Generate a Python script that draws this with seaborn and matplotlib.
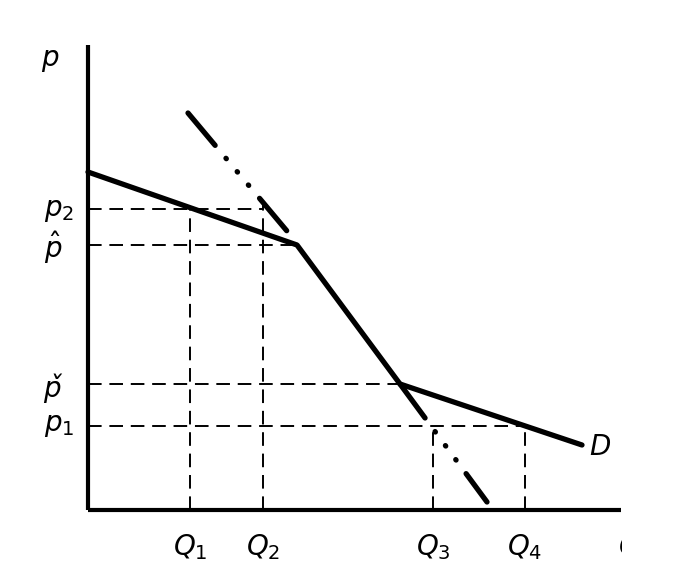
import matplotlib
matplotlib.use("Agg")
import matplotlib.pyplot as plt
import seaborn as sns
import pandas as pd
from matplotlib.transforms import Bbox

sns.set_theme(style="white")
plt.rcParams['font.family'] = ['DejaVu Sans']
plt.rcParams['mathtext.fontset'] = 'dejavusans'
plt.rcParams['text.color'] = 'black'

# Kinked demand curve D (quantity, price)
demand_q = [0, 209, 312, 494]
demand_p = [338, 265, 126, 65]

# Dash-dot extensions
upper_q = [100, 209]
upper_p = [397, 267]
lower_q = [312, 399]
lower_p = [126, 8]

# Price levels and quantities
price_labels = [r'$p_2$', r'$\hat{p}$', 'p\u030c', r'$p_1$']
price_values = [301, 265, 126, 84]
price_reach = [175, 209, 312, 437]

qty_labels = [r'$Q_1$', r'$Q_2$', r'$Q_3$', r'$Q_4$']
qty_values = [102, 175, 345, 437]
qty_top = [301, 305, 84, 84]

fig = plt.figure(figsize=(6.84, 5.67), dpi=100)
ax = fig.add_axes([0, 0, 1, 1])
ax.set_xlim(-88, 596)
ax.set_ylim(-57, 510)
ax.axis('off')

lw_main = 3.8
# Axes
ax.plot([0, 0], [0, 465], color='black', lw=3.0, solid_capstyle='butt')
ax.plot([0, 533], [0, 0], color='black', lw=3.0, solid_capstyle='butt')

# Dashed guides
for pv, reach in zip(price_values, price_reach):
    ax.plot([0, reach], [pv, pv], color='black', lw=1.4, dashes=(7, 4))
for qv, top in zip(qty_values, qty_top):
    ax.plot([qv, qv], [0, top], color='black', lw=1.4, dashes=(7, 4))

# Demand curve
df = pd.DataFrame({'q': demand_q, 'p': demand_p})
sns.lineplot(data=df, x='q', y='p', ax=ax, color='black', lw=lw_main,
             sort=False, estimator=None)

# Dash-dot extensions
dd = (8, 3.2, 0.1, 3.2, 0.1, 3.2, 0.1, 3.2)
for qs, ps in ((upper_q, upper_p), (lower_q, lower_p)):
    ax.plot(qs, ps, color='black', lw=lw_main, dashes=dd,
            dash_capstyle='round', solid_capstyle='round')

ax.set_xlabel('')
ax.set_ylabel('')

fs = 20
# Price labels
ax.text(-38, 450, r'$p$', fontsize=fs, ha='center', va='center')
for i, (lab, y) in enumerate(zip(price_labels, [300, 262, 122, 85])):
    if i == 2:
        ax.text(-27, y, lab, fontsize=fs, style='italic', ha='right',
                va='center')
    else:
        x = -14 if i in (0, 3) else -26
        ax.text(x, y, lab, fontsize=fs, ha='right', va='center')

# Quantity labels
for lab, x in zip(qty_labels, qty_values):
    ax.text(x, -37, lab, fontsize=fs, ha='center', va='center')

ax.text(512, 63, r'$D$', fontsize=fs, ha='center', va='center')

# Clipped axis label at right edge
t = ax.text(541, -37, r'$Q$', fontsize=fs, ha='center', va='center')
fig.canvas.draw()
t.set_clip_box(Bbox.from_extents(0, 0, 622, 567))
t.set_clip_on(True)

fig.savefig('out.png', dpi=100, facecolor='white')
